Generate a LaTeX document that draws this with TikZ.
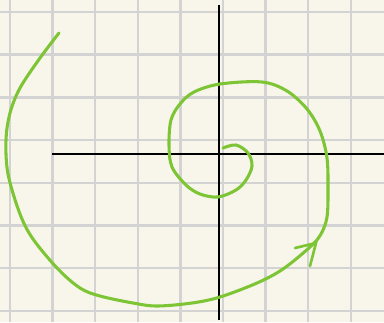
\documentclass[tikz,border=0pt]{standalone}
\begin{document}
\begin{tikzpicture}[x=0.75pt,y=-0.75pt,
  gridln/.style={draw=gray!35!white,line width=1.9pt},
  axisln/.style={draw=black,line width=1.8pt},
  spiral/.style={draw=green!55!black!60!lime,line width=2.2pt,line cap=round,line join=round}]
\definecolor{bgc}{HTML}{F8F6EB}
\definecolor{gridc}{HTML}{D3D3D3}
\definecolor{greenc}{HTML}{7DC535}
\fill[bgc] (0,0) rectangle (384,322);
\useasboundingbox (0,0) rectangle (384,322);
\foreach \k in {0,...,8} {\draw[line width=1.9pt,gridc] ({10+42.6*\k},0) -- ({10+42.6*\k},322);}
\foreach \k in {0,...,7} {\draw[line width=1.9pt,gridc] (0,{12+42.7*\k}) -- (384,{12+42.7*\k});}
\coordinate (hl) at (52,154); \coordinate (hr) at (384,154);
\coordinate (vt) at (219,5); \coordinate (vb) at (219,320);
\draw[axisln] (hl) -- (hr);
\draw[axisln] (vt) -- (vb);
\draw[greenc,line width=2.3pt,line cap=round,line join=round] plot[smooth,tension=0.55] coordinates {
 (223,148) (236,145) (248,153) (252,166) (246,180) (236,190) (218,197) (200,194) (186,185) (172,167) (169,145) (171,120) (180,104) (194,92) (220,84) (262,82) (287,91) (307,109) (320,131) (327,158) (328,190) (327,217) (321,234) (310,247) (283,269) (257,283) (220,297) (192,303) (157,306) (133,303) (100,296) (80,288) (58,269) (33,239) (20,214) (8,174) (6,140) (10,113) (20,88) (40,58) (59,33)};
\coordinate (tip) at (316,243);
\draw[greenc,line width=2pt,line cap=round] (295,248) -- (tip) -- (310,266);
\end{tikzpicture}
\end{document}
